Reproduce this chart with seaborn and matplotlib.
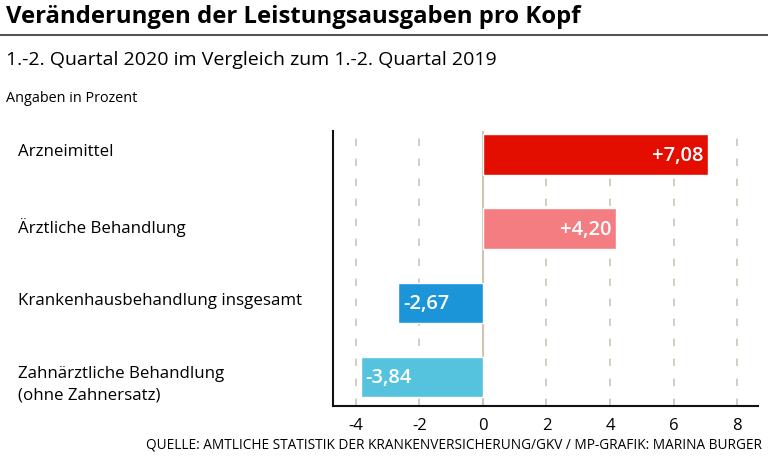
import pandas as pd
import seaborn as sns
import matplotlib.pyplot as plt

categories = ['Arzneimittel', 'Ärztliche Behandlung', 'Krankenhausbehandlung insgesamt',
              'Zahnärztliche Behandlung\n(ohne Zahnersatz)']
values = [7.08, 4.20, -2.67, -3.84]
labels = ['+7,08', '+4,20', '-2,67', '-3,84']
colors = ['#e30d00', '#f47d81', '#1c95d8', '#55c2de']
xticks = [-4, -2, 0, 2, 4, 6, 8]

df = pd.DataFrame({'cat': categories, 'val': values})

sns.set_style('white')
plt.rcParams['font.family'] = ['Open Sans', 'DejaVu Sans']
plt.rcParams['text.color'] = 'black'
plt.rcParams['xtick.labelcolor'] = 'black'

fig = plt.figure(figsize=(7.68, 4.6), dpi=100)
ax = fig.add_axes([333 / 768, 1 - 407 / 460, 425 / 768, 275 / 460])

grid_c = '#cfc5b5'
for t in xticks:
    if t == 0:
        ax.axvline(t, color=grid_c, lw=1.5, zorder=0)
    else:
        ax.axvline(t, color=grid_c, lw=1.2, ls=(0, (4.5, 7.5)), zorder=0)

sns.barplot(data=df, x='val', y='cat', hue='cat', palette=colors, orient='h',
            width=0.55, legend=False, ax=ax, saturation=1, zorder=2)

for i, (v, lab) in enumerate(zip(values, labels)):
    if v > 0:
        ax.text(v - 0.15, i, lab, color='white', fontsize=14.5, fontweight='semibold',
                ha='right', va='center', zorder=3)
    else:
        ax.text(v + 0.15, i, lab, color='white', fontsize=14.5, fontweight='semibold',
                ha='left', va='center', zorder=3)

ax.set_xlim(-4.72, 8.66)
ax.set_ylim(3.39, -0.32)
ax.set_xticks(xticks)
ax.set_xticklabels([str(t) for t in xticks], fontsize=12, color='black')
ax.tick_params(axis='x', length=3, color=grid_c, pad=5)
ax.set_yticks([])
ax.set_xlabel('')
ax.set_ylabel('')
for s in ['top', 'right']:
    ax.spines[s].set_visible(False)
ax.spines['left'].set_color('#111111')
ax.spines['bottom'].set_color('#111111')
ax.spines['left'].set_linewidth(1.5)
ax.spines['bottom'].set_linewidth(1.5)

# category labels on the left
for i, c in enumerate(categories):
    y_pix = [152, 228, 301, 385][i]
    fig.text(18 / 768, 1 - y_pix / 460, c, fontsize=12.2, ha='left', va='center',
             linespacing=1.5, color='black')

fig.text(6 / 768, 1 - 17 / 460, 'Veränderungen der Leistungsausgaben pro Kopf',
         fontsize=17.2, fontweight='bold', ha='left', va='center', color='black')
fig.add_artist(plt.Line2D([0, 1], [1 - 36 / 460, 1 - 36 / 460], color='#555555', lw=1.5))
fig.text(6 / 768, 1 - 60 / 460, '1.-2. Quartal 2020 im Vergleich zum 1.-2. Quartal 2019',
         fontsize=14, ha='left', va='center', color='black')
fig.text(6 / 768, 1 - 99 / 460, 'Angaben in Prozent', fontsize=10.4, ha='left', va='center',
         color='black')
fig.text(762 / 768, 1 - 445 / 460,
         'QUELLE: AMTLICHE STATISTIK DER KRANKENVERSICHERUNG/GKV / MP-GRAFIK: MARINA BURGER',
         fontsize=9.8, ha='right', va='center', color='black')

fig.savefig('out.png', dpi=100)
